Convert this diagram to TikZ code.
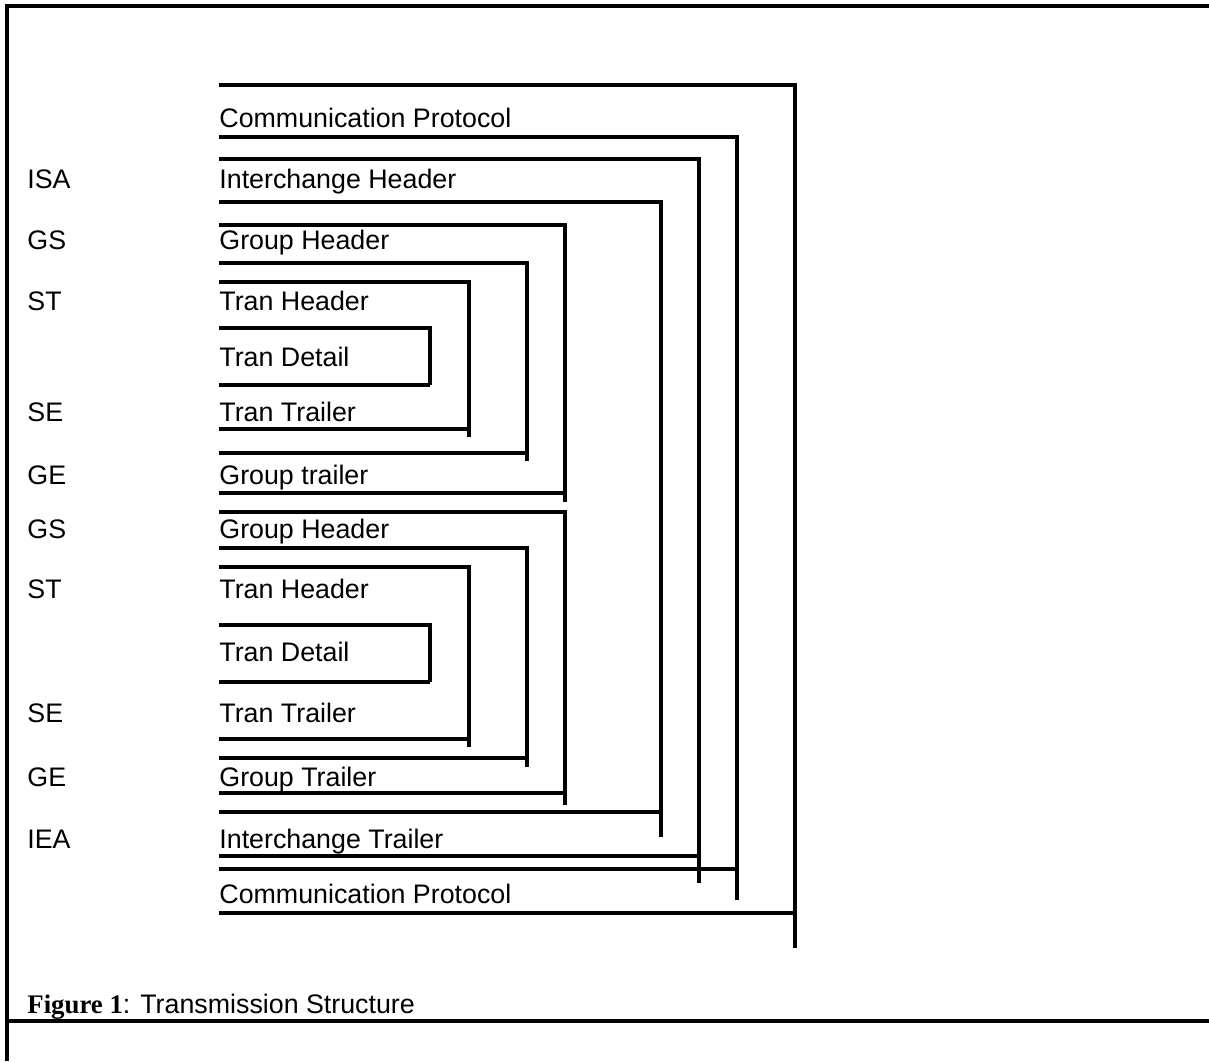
\documentclass[tikz,border=0pt]{standalone}
\usepackage{fontspec}
\setmainfont{Liberation Sans}
\newfontfamily\captionserif{Liberation Serif}

\begin{document}
\begin{tikzpicture}[
        x=0.5pt, y=-0.5pt,
        frame/.style={line width=2.3pt, black},
        seg/.style={line width=2.2pt, black},
        lbl/.style={anchor=base west, inner sep=0pt, font=\fontsize{13.4}{16}\selectfont}
    ]
        \useasboundingbox (0,0) rectangle (1209,1061);

        % Outer frame
        \draw [frame] (7,1061) -- (7,6) -- (1209,6);
        \draw [frame] (7,1021) -- (1209,1021);

        % Communication Protocol
        \draw [seg] (219,85) -| (795,948);
        \draw [seg] (219,913) -- (795,913);
        \draw [seg] (219,137) -| (737,900);
        \draw [seg] (219,869) -- (737,869);

        % Interchange
        \draw [seg] (219,159) -| (699,883);
        \draw [seg] (219,856) -- (699,856);
        \draw [seg] (219,202) -| (661,837);
        \draw [seg] (219,812) -- (661,812);

        % First group
        \draw [seg] (219,225) -| (565,502);
        \draw [seg] (219,493) -- (565,493);
        \draw [seg] (219,263) -| (527,461);
        \draw [seg] (219,453) -- (527,453);
        \draw [seg] (219,282) -| (469,437);
        \draw [seg] (219,429) -- (469,429);
        \draw [seg] (219,328) -| (430,385);
        \draw [seg] (219,385) -- (430,385);

        % Second group
        \draw [seg] (219,512) -| (565,805);
        \draw [seg] (219,793) -- (565,793);
        \draw [seg] (219,548) -| (527,767);
        \draw [seg] (219,758) -- (527,758);
        \draw [seg] (219,567) -| (469,747);
        \draw [seg] (219,739) -- (469,739);
        \draw [seg] (219,625) -| (430,682);
        \draw [seg] (219,682) -- (430,682);

        % Segment names
        \node [lbl] (cptop) at (219,127) {Communication Protocol};
        \node [lbl] (ihead) at (219,188.5) {Interchange Header};
        \node [lbl] (ghead1) at (219,249.5) {Group Header};
        \node [lbl] (thead1) at (219,310) {Tran Header};
        \node [lbl] (tdet1) at (219,366) {Tran Detail};
        \node [lbl] (ttrail1) at (219,421.5) {Tran Trailer};
        \node [lbl] (gtrail1) at (219,484) {Group trailer};
        \node [lbl] (ghead2) at (219,538.5) {Group Header};
        \node [lbl] (thead2) at (219,598.5) {Tran Header};
        \node [lbl] (tdet2) at (219,661) {Tran Detail};
        \node [lbl] (ttrail2) at (219,722.5) {Tran Trailer};
        \node [lbl] (gtrail2) at (219,786) {Group Trailer};
        \node [lbl] (itrail) at (219,848.5) {Interchange Trailer};
        \node [lbl] (cpbot) at (219,903.5) {Communication Protocol};

        % Segment codes
        \node [lbl] (isa) at (27,188.5) {ISA};
        \node [lbl] (gs1) at (27,249.5) {GS};
        \node [lbl] (st1) at (27,310) {ST};
        \node [lbl] (se1) at (27,421.5) {SE};
        \node [lbl] (ge1) at (27,484) {GE};
        \node [lbl] (gs2) at (27,538.5) {GS};
        \node [lbl] (st2) at (27,598.5) {ST};
        \node [lbl] (se2) at (27,722.5) {SE};
        \node [lbl] (ge2) at (27,786) {GE};
        \node [lbl] (iea) at (27,848.5) {IEA};

        % Caption
        \node [lbl] (caption) at (27,1013) {{\captionserif\bfseries Figure 1}: Transmission Structure};

    \end{tikzpicture}
\end{document}
